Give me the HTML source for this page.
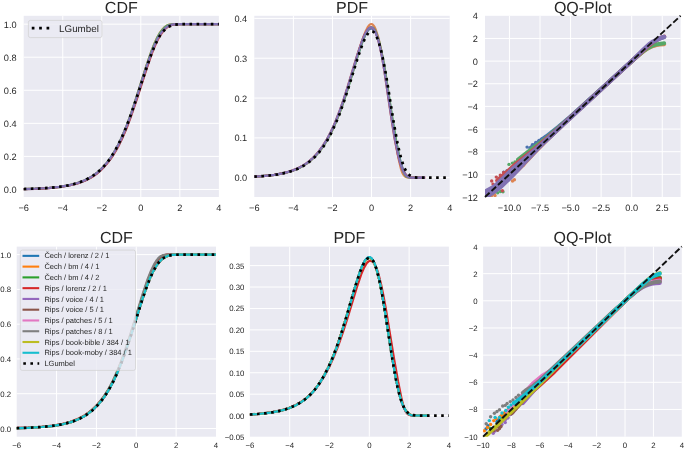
<!DOCTYPE html>
<html><head><meta charset="utf-8"><style>
html,body{margin:0;padding:0;background:#fff;}
body{width:685px;height:449px;overflow:hidden;}
svg{display:block;}
</style></head><body>
<svg width="685" height="449" viewBox="0 0 685 449" font-family='"Liberation Sans", sans-serif' fill="#262626" text-rendering="geometricPrecision" style="will-change:transform">
<rect width="685" height="449" fill="#fff"/>
<clipPath id="c1"><rect x="23.7" y="15.8" width="195.20" height="181.20"/></clipPath>
<rect x="23.7" y="15.8" width="195.20" height="181.20" fill="#EAEAF2"/>
<clipPath id="c2"><rect x="254.3" y="15.8" width="195.40" height="181.20"/></clipPath>
<rect x="254.3" y="15.8" width="195.40" height="181.20" fill="#EAEAF2"/>
<clipPath id="c3"><rect x="485.0" y="15.8" width="195.60" height="181.20"/></clipPath>
<rect x="485.0" y="15.8" width="195.60" height="181.20" fill="#EAEAF2"/>
<clipPath id="c4"><rect x="16.7" y="246.6" width="199.30" height="190.10"/></clipPath>
<rect x="16.7" y="246.6" width="199.30" height="190.10" fill="#EAEAF2"/>
<clipPath id="c5"><rect x="249.9" y="246.6" width="199.00" height="190.10"/></clipPath>
<rect x="249.9" y="246.6" width="199.00" height="190.10" fill="#EAEAF2"/>
<clipPath id="c6"><rect x="483.1" y="246.6" width="198.70" height="190.10"/></clipPath>
<rect x="483.1" y="246.6" width="198.70" height="190.10" fill="#EAEAF2"/>
<line x1="62.74" y1="15.8" x2="62.74" y2="197.0" stroke="#fff" stroke-width="1"/>
<line x1="101.78" y1="15.8" x2="101.78" y2="197.0" stroke="#fff" stroke-width="1"/>
<line x1="140.82" y1="15.8" x2="140.82" y2="197.0" stroke="#fff" stroke-width="1"/>
<line x1="179.86" y1="15.8" x2="179.86" y2="197.0" stroke="#fff" stroke-width="1"/>
<line x1="23.7" y1="189.45" x2="218.9" y2="189.45" stroke="#fff" stroke-width="1"/>
<line x1="23.7" y1="156.39" x2="218.9" y2="156.39" stroke="#fff" stroke-width="1"/>
<line x1="23.7" y1="123.33" x2="218.9" y2="123.33" stroke="#fff" stroke-width="1"/>
<line x1="23.7" y1="90.27" x2="218.9" y2="90.27" stroke="#fff" stroke-width="1"/>
<line x1="23.7" y1="57.21" x2="218.9" y2="57.21" stroke="#fff" stroke-width="1"/>
<line x1="23.7" y1="24.15" x2="218.9" y2="24.15" stroke="#fff" stroke-width="1"/>
<line x1="293.38" y1="15.8" x2="293.38" y2="197.0" stroke="#fff" stroke-width="1"/>
<line x1="332.46" y1="15.8" x2="332.46" y2="197.0" stroke="#fff" stroke-width="1"/>
<line x1="371.54" y1="15.8" x2="371.54" y2="197.0" stroke="#fff" stroke-width="1"/>
<line x1="410.62" y1="15.8" x2="410.62" y2="197.0" stroke="#fff" stroke-width="1"/>
<line x1="254.3" y1="177.70" x2="449.7" y2="177.70" stroke="#fff" stroke-width="1"/>
<line x1="254.3" y1="137.88" x2="449.7" y2="137.88" stroke="#fff" stroke-width="1"/>
<line x1="254.3" y1="98.05" x2="449.7" y2="98.05" stroke="#fff" stroke-width="1"/>
<line x1="254.3" y1="58.23" x2="449.7" y2="58.23" stroke="#fff" stroke-width="1"/>
<line x1="254.3" y1="18.40" x2="449.7" y2="18.40" stroke="#fff" stroke-width="1"/>
<line x1="509.45" y1="15.8" x2="509.45" y2="197.0" stroke="#fff" stroke-width="1"/>
<line x1="540.01" y1="15.8" x2="540.01" y2="197.0" stroke="#fff" stroke-width="1"/>
<line x1="570.58" y1="15.8" x2="570.58" y2="197.0" stroke="#fff" stroke-width="1"/>
<line x1="601.14" y1="15.8" x2="601.14" y2="197.0" stroke="#fff" stroke-width="1"/>
<line x1="631.70" y1="15.8" x2="631.70" y2="197.0" stroke="#fff" stroke-width="1"/>
<line x1="662.26" y1="15.8" x2="662.26" y2="197.0" stroke="#fff" stroke-width="1"/>
<line x1="485.0" y1="174.35" x2="680.6" y2="174.35" stroke="#fff" stroke-width="1"/>
<line x1="485.0" y1="151.70" x2="680.6" y2="151.70" stroke="#fff" stroke-width="1"/>
<line x1="485.0" y1="129.05" x2="680.6" y2="129.05" stroke="#fff" stroke-width="1"/>
<line x1="485.0" y1="106.40" x2="680.6" y2="106.40" stroke="#fff" stroke-width="1"/>
<line x1="485.0" y1="83.75" x2="680.6" y2="83.75" stroke="#fff" stroke-width="1"/>
<line x1="485.0" y1="61.10" x2="680.6" y2="61.10" stroke="#fff" stroke-width="1"/>
<line x1="485.0" y1="38.45" x2="680.6" y2="38.45" stroke="#fff" stroke-width="1"/>
<line x1="56.56" y1="246.6" x2="56.56" y2="436.7" stroke="#fff" stroke-width="1"/>
<line x1="96.42" y1="246.6" x2="96.42" y2="436.7" stroke="#fff" stroke-width="1"/>
<line x1="136.28" y1="246.6" x2="136.28" y2="436.7" stroke="#fff" stroke-width="1"/>
<line x1="176.14" y1="246.6" x2="176.14" y2="436.7" stroke="#fff" stroke-width="1"/>
<line x1="16.7" y1="428.50" x2="216.0" y2="428.50" stroke="#fff" stroke-width="1"/>
<line x1="16.7" y1="393.72" x2="216.0" y2="393.72" stroke="#fff" stroke-width="1"/>
<line x1="16.7" y1="358.94" x2="216.0" y2="358.94" stroke="#fff" stroke-width="1"/>
<line x1="16.7" y1="324.16" x2="216.0" y2="324.16" stroke="#fff" stroke-width="1"/>
<line x1="16.7" y1="289.38" x2="216.0" y2="289.38" stroke="#fff" stroke-width="1"/>
<line x1="16.7" y1="254.60" x2="216.0" y2="254.60" stroke="#fff" stroke-width="1"/>
<line x1="289.70" y1="246.6" x2="289.70" y2="436.7" stroke="#fff" stroke-width="1"/>
<line x1="329.50" y1="246.6" x2="329.50" y2="436.7" stroke="#fff" stroke-width="1"/>
<line x1="369.30" y1="246.6" x2="369.30" y2="436.7" stroke="#fff" stroke-width="1"/>
<line x1="409.10" y1="246.6" x2="409.10" y2="436.7" stroke="#fff" stroke-width="1"/>
<line x1="249.9" y1="415.60" x2="448.9" y2="415.60" stroke="#fff" stroke-width="1"/>
<line x1="249.9" y1="394.17" x2="448.9" y2="394.17" stroke="#fff" stroke-width="1"/>
<line x1="249.9" y1="372.74" x2="448.9" y2="372.74" stroke="#fff" stroke-width="1"/>
<line x1="249.9" y1="351.31" x2="448.9" y2="351.31" stroke="#fff" stroke-width="1"/>
<line x1="249.9" y1="329.89" x2="448.9" y2="329.89" stroke="#fff" stroke-width="1"/>
<line x1="249.9" y1="308.46" x2="448.9" y2="308.46" stroke="#fff" stroke-width="1"/>
<line x1="249.9" y1="287.03" x2="448.9" y2="287.03" stroke="#fff" stroke-width="1"/>
<line x1="249.9" y1="265.60" x2="448.9" y2="265.60" stroke="#fff" stroke-width="1"/>
<line x1="511.49" y1="246.6" x2="511.49" y2="436.7" stroke="#fff" stroke-width="1"/>
<line x1="539.87" y1="246.6" x2="539.87" y2="436.7" stroke="#fff" stroke-width="1"/>
<line x1="568.26" y1="246.6" x2="568.26" y2="436.7" stroke="#fff" stroke-width="1"/>
<line x1="596.64" y1="246.6" x2="596.64" y2="436.7" stroke="#fff" stroke-width="1"/>
<line x1="625.03" y1="246.6" x2="625.03" y2="436.7" stroke="#fff" stroke-width="1"/>
<line x1="653.41" y1="246.6" x2="653.41" y2="436.7" stroke="#fff" stroke-width="1"/>
<line x1="483.1" y1="409.44" x2="681.8" y2="409.44" stroke="#fff" stroke-width="1"/>
<line x1="483.1" y1="382.29" x2="681.8" y2="382.29" stroke="#fff" stroke-width="1"/>
<line x1="483.1" y1="355.13" x2="681.8" y2="355.13" stroke="#fff" stroke-width="1"/>
<line x1="483.1" y1="327.97" x2="681.8" y2="327.97" stroke="#fff" stroke-width="1"/>
<line x1="483.1" y1="300.81" x2="681.8" y2="300.81" stroke="#fff" stroke-width="1"/>
<line x1="483.1" y1="273.66" x2="681.8" y2="273.66" stroke="#fff" stroke-width="1"/>
<path d="M17.8 189.2L35.2 188.8 48.6 188.1 59.6 187.0 69.0 185.5 77.3 183.4 84.6 180.7 88.0 179.1 91.2 177.3 94.4 175.3 97.3 173.1 100.7 170.1 103.9 166.9 107.1 163.2 110.2 159.2 113.1 154.9 116.0 150.0 118.9 144.8 121.7 139.0 126.7 127.4 131.7 113.7 136.5 99.5 147.0 66.8 152.2 51.9 155.2 44.7 158.0 38.8 160.7 34.1 163.5 30.4 166.0 27.8 168.5 26.0 171.2 24.9 174.2 24.3 179.9 24.2 224.7 24.1" fill="none" stroke="#4C72B0" stroke-width="2.2" stroke-linejoin="round" stroke-linecap="butt" clip-path="url(#c1)" />
<path d="M17.8 189.2L35.0 188.7 48.4 188.0 59.3 186.9 68.6 185.4 76.9 183.3 84.2 180.6 90.8 177.2 93.9 175.2 96.8 173.0 100.3 170.0 103.6 166.6 106.9 162.9 109.9 158.8 112.8 154.5 115.7 149.5 118.6 144.2 121.4 138.3 126.3 126.8 131.4 112.9 136.0 98.7 146.4 65.5 151.6 50.6 154.5 43.3 157.2 37.5 159.9 32.7 162.6 29.2 164.6 27.1 166.8 25.6 169.0 24.7 171.8 24.3 177.2 24.2 224.7 24.1" fill="none" stroke="#DD8452" stroke-width="2.2" stroke-linejoin="round" stroke-linecap="butt" clip-path="url(#c1)" />
<path d="M17.8 189.2L35.0 188.7 48.4 188.0 59.3 186.9 68.6 185.4 76.8 183.3 84.1 180.6 90.7 177.2 93.8 175.2 96.7 173.0 100.1 170.1 103.4 166.7 106.7 163.0 109.7 159.0 112.7 154.4 115.6 149.5 118.5 144.2 121.3 138.3 126.3 126.6 131.4 112.7 136.0 98.6 146.4 65.8 151.6 50.9 154.5 43.7 157.2 37.9 159.9 33.1 162.7 29.4 164.8 27.2 167.1 25.6 169.3 24.8 172.1 24.3 177.5 24.2 224.7 24.1" fill="none" stroke="#55A868" stroke-width="2.2" stroke-linejoin="round" stroke-linecap="butt" clip-path="url(#c1)" />
<path d="M17.8 189.2L35.3 188.8 48.8 188.1 59.8 187.0 69.2 185.5 77.5 183.4 84.9 180.7 88.3 179.0 91.5 177.2 94.7 175.2 97.6 173.0 101.0 170.1 104.2 166.8 107.4 163.1 110.5 159.1 113.4 154.8 116.3 149.9 119.2 144.6 122.0 138.8 127.0 127.2 132.0 113.5 136.7 99.6 147.2 66.9 152.4 52.1 155.4 44.9 158.1 39.2 160.8 34.5 163.7 30.6 166.2 28.0 168.8 26.2 171.6 25.0 174.7 24.4 180.3 24.2 224.7 24.1" fill="none" stroke="#C44E52" stroke-width="2.2" stroke-linejoin="round" stroke-linecap="butt" clip-path="url(#c1)" />
<path d="M17.8 189.2L35.0 188.7 48.4 188.0 59.3 186.9 68.6 185.4 76.9 183.3 84.2 180.6 90.8 177.2 93.9 175.2 96.8 173.0 100.2 170.1 103.4 166.8 106.7 163.1 109.7 159.1 112.6 154.8 115.5 149.9 118.4 144.6 121.2 138.8 126.2 127.2 131.3 113.6 135.9 99.6 146.4 66.9 151.7 52.0 154.6 44.9 157.4 39.0 160.1 34.3 163.0 30.5 165.5 27.9 168.1 26.1 170.8 24.9 173.9 24.3 179.6 24.2 224.7 24.1" fill="none" stroke="#8172B3" stroke-width="2.2" stroke-linejoin="round" stroke-linecap="butt" clip-path="url(#c1)" />
<path d="M23.7 189.0L39.3 188.5 51.7 187.7 62.2 186.5 71.0 184.9 78.8 182.7 85.9 179.8 92.1 176.4 98.0 172.0 101.3 169.0 104.5 165.6 107.5 162.1 110.4 158.1 113.3 153.6 115.9 149.2 121.5 138.2 126.4 126.8 131.2 113.8 136.1 99.4 146.6 67.4 151.8 52.8 154.7 45.7 157.3 40.3 159.9 35.7 162.5 32.1 165.5 29.0 168.4 26.9 171.6 25.4 175.2 24.6 178.5 24.3 183.4 24.2 218.9 24.1" fill="none" stroke="#000" stroke-width="2.7" stroke-linejoin="round" stroke-linecap="butt" clip-path="url(#c1)" stroke-dasharray="2.6 4.5"/>
<path d="M248.4 176.9L262.7 176.1 274.2 174.9 283.9 173.1 288.2 172.0 292.3 170.7 296.2 169.2 299.8 167.5 303.2 165.7 306.6 163.5 309.7 161.1 312.7 158.5 315.7 155.6 318.5 152.4 322.9 146.5 327.2 139.7 331.3 131.9 335.3 123.2 339.7 112.1 344.2 99.3 348.5 85.8 357.8 55.3 362.3 42.1 364.8 36.0 367.1 31.7 368.2 30.3 369.3 29.3 370.4 28.7 371.3 28.5 372.6 28.8 373.8 29.8 375.0 31.4 376.1 33.7 378.5 40.3 380.8 49.5 382.9 59.6 385.0 71.8 392.5 120.6 395.7 139.2 399.1 155.8 400.8 162.3 402.4 167.5 403.9 171.2 405.3 173.9 406.8 175.7 408.5 176.9 410.0 177.4 412.2 177.6 424.2 177.7" fill="none" stroke="#4C72B0" stroke-width="2.2" stroke-linejoin="round" stroke-linecap="butt" clip-path="url(#c2)" />
<path d="M248.4 176.9L262.9 176.1 274.5 174.9 284.3 173.0 288.7 171.9 292.8 170.5 296.7 169.0 300.3 167.3 303.8 165.3 307.2 163.1 310.4 160.6 313.4 157.8 316.3 154.8 319.2 151.5 323.8 145.2 328.2 137.9 332.5 129.5 336.7 119.9 341.1 108.4 345.6 94.8 350.1 80.4 359.7 48.3 363.7 36.1 365.9 30.7 367.8 26.9 369.6 24.8 370.5 24.2 371.2 24.0 372.4 24.4 373.6 25.5 374.7 27.2 375.8 29.8 378.2 37.1 380.7 48.1 382.9 59.4 385.2 73.5 393.2 126.9 396.4 146.5 399.0 160.8 401.1 169.4 402.2 172.4 403.3 174.5 404.6 176.1 405.9 177.0 407.3 177.4 409.3 177.6 419.3 177.7" fill="none" stroke="#DD8452" stroke-width="2.2" stroke-linejoin="round" stroke-linecap="butt" clip-path="url(#c2)" />
<path d="M248.4 177.0L262.8 176.2 274.4 174.9 284.2 173.1 288.5 172.0 292.6 170.7 296.5 169.2 300.1 167.5 303.6 165.5 307.0 163.4 310.1 161.0 313.1 158.3 316.0 155.4 318.9 152.1 323.4 146.1 327.7 139.2 331.9 131.1 336.0 122.0 340.4 110.8 344.9 97.9 349.2 84.3 358.5 53.4 362.9 40.3 365.4 34.4 367.5 30.3 368.6 28.9 369.6 27.9 370.6 27.3 371.4 27.2 372.7 27.5 373.9 28.5 375.1 30.2 376.2 32.6 378.7 39.8 381.1 49.7 383.3 60.5 385.5 73.4 393.2 123.2 396.5 142.6 399.6 158.8 400.9 164.5 402.2 169.0 403.4 172.1 404.6 174.4 405.8 176.0 407.2 176.9 408.7 177.4 410.5 177.6 420.4 177.7" fill="none" stroke="#55A868" stroke-width="2.2" stroke-linejoin="round" stroke-linecap="butt" clip-path="url(#c2)" />
<path d="M248.4 176.9L262.6 176.1 274.0 174.9 283.7 173.1 288.0 171.9 292.1 170.6 296.0 169.1 299.6 167.4 303.1 165.5 306.4 163.3 309.5 160.9 312.5 158.2 315.5 155.3 318.2 152.1 322.6 146.2 326.9 139.3 331.0 131.5 335.0 122.6 339.4 111.5 343.9 98.5 348.3 84.6 357.4 54.3 361.8 41.3 364.3 35.1 366.7 30.8 367.8 29.3 368.9 28.2 370.0 27.6 371.0 27.4 372.1 27.7 373.3 28.6 374.5 30.2 375.6 32.4 377.9 38.7 380.2 48.1 382.2 58.0 384.3 70.8 391.6 120.1 394.6 138.8 397.8 154.8 399.4 160.8 401.0 166.0 402.7 170.0 404.5 173.1 406.3 175.3 408.4 176.7 410.2 177.3 412.5 177.6 425.3 177.7" fill="none" stroke="#C44E52" stroke-width="2.2" stroke-linejoin="round" stroke-linecap="butt" clip-path="url(#c2)" />
<path d="M248.4 176.9L262.6 176.1 274.1 174.9 283.8 173.1 288.1 171.9 292.2 170.6 296.1 169.1 299.7 167.4 303.1 165.5 306.5 163.3 309.6 160.9 312.6 158.2 315.6 155.2 318.3 152.1 322.7 146.2 327.0 139.3 331.1 131.4 335.1 122.6 339.5 111.4 344.0 98.5 348.3 85.0 357.6 54.3 362.1 41.0 364.6 34.9 366.9 30.8 367.9 29.3 369.0 28.2 370.1 27.6 371.1 27.4 372.2 27.7 373.4 28.7 374.6 30.3 375.7 32.6 378.0 39.0 380.3 48.4 382.3 58.2 384.4 70.8 391.9 120.5 395.0 139.5 398.3 155.8 400.0 162.2 401.6 167.4 403.1 171.0 404.7 173.9 406.2 175.7 408.0 176.9 409.6 177.4 411.8 177.6 425.1 177.7" fill="none" stroke="#8172B3" stroke-width="2.2" stroke-linejoin="round" stroke-linecap="butt" clip-path="url(#c2)" />
<path d="M254.3 176.7L267.0 175.8 277.8 174.4 286.9 172.5 294.8 170.0 298.3 168.5 301.9 166.7 305.2 164.8 308.1 162.8 311.1 160.5 314.0 157.8 316.9 154.8 319.5 151.8 323.8 146.0 327.7 139.7 331.6 132.4 335.5 123.9 339.8 113.4 344.3 100.5 348.6 87.4 357.7 57.8 362.3 44.7 364.9 38.6 367.2 34.6 368.5 32.9 369.5 32.0 370.4 31.4 371.4 31.2 372.7 31.5 374.0 32.4 375.3 34.1 376.3 35.8 378.6 41.6 381.2 51.0 383.5 61.4 385.8 73.7 393.9 123.7 397.5 143.3 399.5 152.1 401.4 159.5 403.4 165.3 405.3 169.7 407.3 172.8 409.2 174.9 411.5 176.4 414.5 177.3 417.1 177.6 420.7 177.7 449.7 177.7" fill="none" stroke="#000" stroke-width="2.7" stroke-linejoin="round" stroke-linecap="butt" clip-path="url(#c2)" stroke-dasharray="2.6 4.5"/>
<g clip-path="url(#c3)" fill="#4C72B0"><circle cx="527.1" cy="147.1" r="1.7"/><circle cx="532.4" cy="144.8" r="1.7"/><circle cx="535.8" cy="142.4" r="1.7"/><circle cx="539" cy="140.5" r="1.7"/><circle cx="541.8" cy="139" r="1.7"/><circle cx="503.7" cy="172.1" r="1.7"/><circle cx="507.1" cy="170.8" r="1.7"/></g>
<path d="M530.2 148.1L546.4 136.2 558.4 126.7 570.5 116.4 640.7 52.9 648.4 46.1 652.8 42.8 656.8 40.1 660.5 38.3 664.2 37.1" fill="none" stroke="#4C72B0" stroke-width="4.0" stroke-linejoin="round" stroke-linecap="round" clip-path="url(#c3)"/>
<g clip-path="url(#c3)" fill="#DD8452"><circle cx="523.7" cy="165.1" r="1.7"/><circle cx="514.4" cy="179.8" r="1.7"/><circle cx="512.5" cy="181" r="1.7"/><circle cx="495" cy="195.5" r="1.7"/><circle cx="487.7" cy="193.5" r="1.7"/><circle cx="491" cy="196.5" r="1.7"/></g>
<path d="M491.1 195.3L521.5 166.6 534.1 153.2 546.2 140.9 570.9 117.4 623.0 69.2 636.0 57.4 643.8 51.1 647.3 48.8 650.3 47.2 653.4 46.0 656.4 45.1 659.9 44.6 664.2 44.2" fill="none" stroke="#DD8452" stroke-width="4.0" stroke-linejoin="round" stroke-linecap="round" clip-path="url(#c3)"/>
<g clip-path="url(#c3)" fill="#55A868"><circle cx="509" cy="164.4" r="1.7"/><circle cx="512.4" cy="163.1" r="1.7"/><circle cx="515" cy="162" r="1.7"/><circle cx="517.7" cy="160" r="1.7"/><circle cx="520.5" cy="159" r="1.7"/><circle cx="497.7" cy="192.8" r="1.7"/><circle cx="500.5" cy="191.5" r="1.7"/><circle cx="503" cy="191.8" r="1.7"/></g>
<path d="M518.0 159.6L533.8 147.3 546.2 138.0 570.4 117.3 627.2 65.3 641.9 52.4 647.4 48.4 652.5 45.7 657.6 44.2 664.2 43.3" fill="none" stroke="#55A868" stroke-width="4.0" stroke-linejoin="round" stroke-linecap="round" clip-path="url(#c3)"/>
<g clip-path="url(#c3)" fill="#C44E52"><circle cx="491.7" cy="181" r="1.7"/><circle cx="496.3" cy="177.1" r="1.7"/><circle cx="500.3" cy="175.1" r="1.7"/><circle cx="503.7" cy="172.5" r="1.7"/><circle cx="493" cy="184.1" r="1.7"/><circle cx="502.4" cy="190.8" r="1.7"/><circle cx="489" cy="194.5" r="1.7"/></g>
<path d="M497.2 180.6L515.6 164.1 534.1 149.3 558.3 128.5 647.5 46.8 652.5 42.7 656.7 39.8 660.5 37.9 664.2 36.6" fill="none" stroke="#C44E52" stroke-width="4.0" stroke-linejoin="round" stroke-linecap="round" clip-path="url(#c3)"/>
<path d="M546.1 140.4L631.7 61.2 642.9 50.1 649.4 44.0 653.0 41.7 658.3 38.9 661.3 37.7 664.2 36.9" fill="none" stroke="#8172B3" stroke-width="4.4" stroke-linejoin="round" stroke-linecap="round" clip-path="url(#c3)"/>
<path d="M483.0 190.9 L488.0 188.2 L493.0 185.6 L502.0 177.3 L510.0 169.3 L519.0 161.5 L525.0 156.4 L532.0 150.5 L540.0 143.4 L548.0 136.4 L556.0 129.2 L556.0 133.2 L548.0 140.8 L540.0 148.6 L532.0 157.0 L525.0 164.4 L519.0 171.0 L510.0 180.3 L502.0 187.8 L493.0 194.6 L488.0 197.7 L483.0 200.9Z" fill="#8172B3" stroke="#8172B3" stroke-width="1.2" stroke-linejoin="round" clip-path="url(#c3)"/>
<line x1="485.00" y1="197.00" x2="680.60" y2="15.80" stroke="#111" stroke-width="1.9" stroke-dasharray="6.25 2.6"/>
<path d="M10.7 428.2L28.3 427.8 41.9 427.0 53.1 425.9 62.5 424.3 70.9 422.1 78.4 419.2 81.8 417.6 85.1 415.7 88.2 413.5 91.2 411.2 94.7 408.1 98.0 404.7 101.2 401.0 104.3 396.8 107.3 392.2 110.3 387.1 113.2 381.6 116.1 375.5 121.1 363.4 126.4 349.0 131.3 334.2 142.1 300.1 147.4 284.6 150.4 277.2 153.3 271.0 156.1 266.1 159.0 262.1 161.9 259.2 164.9 257.1 168.2 255.7 172.0 254.9 178.5 254.6 221.9 254.6" fill="none" stroke="#1f77b4" stroke-width="2.2" stroke-linejoin="round" stroke-linecap="butt" clip-path="url(#c4)" />
<path d="M10.7 428.2L28.3 427.8 41.9 427.0 53.1 425.9 62.5 424.3 70.9 422.1 78.4 419.2 81.8 417.6 85.1 415.7 88.2 413.5 91.2 411.2 94.7 408.1 98.0 404.8 101.2 401.0 104.3 396.8 107.3 392.3 110.3 387.2 113.2 381.7 116.1 375.6 121.1 363.5 126.4 349.1 131.3 334.3 142.1 300.2 147.4 284.7 150.4 277.3 153.3 271.2 156.1 266.3 159.0 262.3 161.9 259.3 165.0 257.2 168.4 255.8 172.4 255.0 179.6 254.6 221.9 254.6" fill="none" stroke="#ff7f0e" stroke-width="2.2" stroke-linejoin="round" stroke-linecap="butt" clip-path="url(#c4)" />
<path d="M10.7 428.2L28.3 427.8 41.9 427.0 53.1 425.9 62.5 424.3 70.9 422.1 78.4 419.2 81.8 417.6 85.1 415.7 88.2 413.5 91.2 411.2 94.7 408.1 98.0 404.7 101.2 401.0 104.3 396.8 107.3 392.2 110.3 387.1 113.2 381.6 116.1 375.6 121.1 363.5 126.4 349.0 131.3 334.3 142.1 300.1 147.4 284.7 150.4 277.2 153.3 271.1 156.1 266.2 159.0 262.2 161.9 259.2 165.0 257.1 168.3 255.7 172.2 254.9 178.9 254.6 221.9 254.6" fill="none" stroke="#2ca02c" stroke-width="2.2" stroke-linejoin="round" stroke-linecap="butt" clip-path="url(#c4)" />
<path d="M10.7 428.1L27.9 427.6 41.3 426.8 52.5 425.6 61.9 424.0 70.4 421.7 77.9 418.8 81.4 417.1 84.7 415.2 87.9 413.0 90.9 410.7 94.6 407.4 98.1 403.8 101.5 399.7 104.7 395.4 107.9 390.5 111.0 385.2 114.0 379.4 116.9 373.0 122.1 360.5 127.5 345.6 132.4 330.7 143.3 295.7 148.5 280.2 151.4 272.8 154.1 266.8 156.6 262.2 159.0 258.8 160.8 257.0 162.7 255.8 164.7 255.1 167.3 254.7 221.9 254.6" fill="none" stroke="#d62728" stroke-width="2.2" stroke-linejoin="round" stroke-linecap="butt" clip-path="url(#c4)" />
<path d="M10.7 428.2L28.3 427.8 41.9 427.0 53.1 425.9 62.5 424.3 70.9 422.1 78.4 419.2 81.8 417.6 85.1 415.7 88.2 413.5 91.2 411.2 94.7 408.1 98.0 404.8 101.2 401.0 104.3 396.8 107.3 392.3 110.3 387.2 113.2 381.7 116.1 375.6 121.1 363.5 126.4 349.0 131.3 334.3 142.1 300.1 147.4 284.6 150.4 277.2 153.3 271.0 156.1 266.1 159.0 262.1 161.9 259.2 164.9 257.1 168.2 255.7 172.0 254.9 178.5 254.6 221.9 254.6" fill="none" stroke="#9467bd" stroke-width="2.2" stroke-linejoin="round" stroke-linecap="butt" clip-path="url(#c4)" />
<path d="M10.7 428.2L28.1 427.7 41.6 427.0 52.7 425.9 62.1 424.2 70.5 422.1 78.0 419.2 81.4 417.5 84.7 415.6 87.8 413.5 90.7 411.2 94.3 408.0 97.7 404.5 101.0 400.6 104.1 396.3 107.2 391.6 110.2 386.4 113.1 380.7 116.0 374.6 121.0 362.2 126.3 347.4 131.2 332.3 142.1 297.0 147.3 281.4 150.2 274.1 153.0 267.9 155.7 263.0 158.3 259.4 160.3 257.4 162.3 256.0 164.5 255.1 167.2 254.7 221.9 254.6" fill="none" stroke="#8c564b" stroke-width="2.2" stroke-linejoin="round" stroke-linecap="butt" clip-path="url(#c4)" />
<path d="M10.7 428.2L28.3 427.8 41.9 427.0 53.1 425.9 62.5 424.3 70.9 422.1 78.4 419.2 81.8 417.6 85.1 415.7 88.2 413.5 91.2 411.2 94.7 408.1 98.0 404.8 101.2 401.0 104.3 396.8 107.3 392.3 110.3 387.2 113.2 381.7 116.1 375.6 121.1 363.5 126.4 349.0 131.3 334.3 142.1 300.1 147.4 284.6 150.4 277.2 153.3 271.0 156.1 266.1 159.0 262.1 161.9 259.2 164.9 257.1 168.2 255.7 172.0 254.9 178.5 254.6 221.9 254.6" fill="none" stroke="#e377c2" stroke-width="2.2" stroke-linejoin="round" stroke-linecap="butt" clip-path="url(#c4)" />
<path d="M10.7 428.2L30.5 427.6 45.3 426.7 57.4 425.1 62.6 424.1 67.5 422.9 72.2 421.4 76.5 419.8 80.6 417.8 84.5 415.6 88.1 413.1 91.6 410.3 94.9 407.2 98.1 403.8 103.3 397.2 108.2 389.5 112.9 380.7 117.5 370.3 122.1 358.6 126.9 344.8 131.5 330.4 142.1 295.7 147.7 278.9 150.9 270.9 153.9 264.6 156.7 260.1 158.1 258.4 159.5 257.0 161.0 256.0 162.7 255.3 164.6 254.9 167.0 254.7 221.9 254.6" fill="none" stroke="#7f7f7f" stroke-width="2.2" stroke-linejoin="round" stroke-linecap="butt" clip-path="url(#c4)" />
<path d="M10.7 428.2L28.3 427.8 41.9 427.0 53.1 425.9 62.5 424.3 70.9 422.1 78.4 419.2 81.8 417.5 85.1 415.7 88.2 413.5 91.2 411.2 94.7 408.1 98.0 404.7 101.2 400.9 104.3 396.8 107.3 392.2 110.3 387.1 113.2 381.6 116.0 375.7 121.0 363.7 126.3 349.3 131.2 334.5 142.1 300.1 147.4 284.7 150.4 277.3 153.3 271.1 156.1 266.2 159.0 262.2 161.9 259.2 165.0 257.1 168.3 255.7 172.2 254.9 178.9 254.6 221.9 254.6" fill="none" stroke="#bcbd22" stroke-width="2.2" stroke-linejoin="round" stroke-linecap="butt" clip-path="url(#c4)" />
<path d="M10.7 428.2L28.3 427.8 41.9 427.0 53.1 425.9 62.5 424.3 71.0 422.1 78.5 419.2 81.9 417.5 85.2 415.7 88.3 413.5 91.3 411.2 94.8 408.1 98.1 404.7 101.3 400.9 104.4 396.8 107.4 392.2 110.4 387.1 113.3 381.6 116.2 375.5 121.2 363.4 126.4 349.2 131.3 334.4 142.1 300.1 147.4 284.6 150.4 277.2 153.3 271.1 156.1 266.2 159.0 262.2 161.9 259.2 165.0 257.1 168.3 255.7 172.2 254.9 178.9 254.6 221.9 254.6" fill="none" stroke="#17becf" stroke-width="2.2" stroke-linejoin="round" stroke-linecap="butt" clip-path="url(#c4)" />
<path d="M16.7 428.1L32.7 427.5 45.3 426.7 56.0 425.4 64.9 423.7 72.9 421.4 76.6 420.0 80.2 418.4 86.6 414.7 89.6 412.6 92.6 410.2 95.9 407.0 99.2 403.4 102.2 399.7 105.2 395.5 108.2 390.8 110.9 386.1 113.9 380.3 116.5 374.6 121.5 362.6 126.5 348.9 131.5 333.8 142.1 300.1 147.5 284.7 150.5 277.3 153.1 271.6 155.8 266.8 158.4 262.9 161.4 259.7 164.4 257.5 167.8 256.0 171.4 255.1 174.7 254.8 179.7 254.6 216.0 254.6" fill="none" stroke="#000" stroke-width="2.7" stroke-linejoin="round" stroke-linecap="butt" clip-path="url(#c4)" stroke-dasharray="2.6 4.5"/>
<path d="M243.9 414.8L258.6 414.0 270.3 412.7 280.2 410.8 284.6 409.6 288.8 408.2 292.8 406.6 296.5 404.8 299.9 402.8 303.3 400.6 306.5 398.1 309.6 395.3 312.6 392.2 315.5 388.8 319.9 382.6 324.3 375.3 328.5 367.1 332.6 357.8 337.1 346.0 341.6 332.4 346.0 318.1 355.5 285.6 359.9 272.0 362.5 265.5 364.9 261.1 366.0 259.6 367.1 258.5 368.2 257.8 369.2 257.6 370.5 258.0 371.7 258.9 373.0 260.7 374.2 263.0 375.4 265.9 376.7 269.9 379.2 279.6 381.3 290.2 383.6 303.1 391.8 355.3 395.2 375.0 397.1 384.5 398.9 392.2 400.6 398.8 402.4 404.1 404.2 408.3 406.0 411.4 407.8 413.5 409.8 414.8 411.6 415.3 414.0 415.5 429.0 415.6" fill="none" stroke="#1f77b4" stroke-width="2.2" stroke-linejoin="round" stroke-linecap="butt" clip-path="url(#c5)" />
<path d="M243.9 414.8L258.6 414.0 270.3 412.7 280.2 410.8 284.6 409.6 288.8 408.2 292.8 406.6 296.5 404.8 299.9 402.9 303.3 400.6 306.5 398.1 309.6 395.3 312.6 392.2 315.5 388.8 319.9 382.6 324.3 375.3 328.5 367.1 332.6 357.8 337.1 346.1 341.6 332.5 346.0 318.2 355.5 285.8 359.9 272.1 362.5 265.7 364.9 261.2 366.0 259.7 367.1 258.7 368.2 258.0 369.2 257.8 370.5 258.1 371.7 259.1 373.0 260.8 374.2 263.1 375.4 266.1 376.7 270.0 379.2 279.7 381.3 290.3 383.6 303.2 391.8 355.3 395.1 374.4 396.9 383.4 398.7 391.3 400.3 397.5 402.1 402.8 404.0 407.2 406.0 410.6 408.1 413.0 410.4 414.5 412.4 415.2 414.9 415.5 429.0 415.6" fill="none" stroke="#ff7f0e" stroke-width="2.2" stroke-linejoin="round" stroke-linecap="butt" clip-path="url(#c5)" />
<path d="M243.9 414.8L258.6 414.0 270.3 412.7 280.2 410.8 284.6 409.6 288.8 408.2 292.8 406.6 296.5 404.8 299.9 402.8 303.3 400.6 306.5 398.1 309.6 395.3 312.6 392.2 315.5 388.8 319.9 382.6 324.3 375.3 328.5 367.1 332.6 357.8 337.1 346.1 341.6 332.5 346.0 318.2 355.5 285.7 359.9 272.0 362.5 265.6 364.9 261.1 366.0 259.7 367.1 258.6 368.2 257.9 369.2 257.7 370.5 258.1 371.7 259.0 373.0 260.7 374.2 263.0 376.6 269.6 379.1 279.2 381.2 289.7 383.6 303.1 391.8 355.3 395.1 374.4 397.0 383.9 398.8 391.7 400.5 398.3 402.3 403.6 404.1 407.8 406.0 411.0 408.0 413.3 410.1 414.7 412.0 415.3 414.4 415.5 429.0 415.6" fill="none" stroke="#2ca02c" stroke-width="2.2" stroke-linejoin="round" stroke-linecap="butt" clip-path="url(#c5)" />
<path d="M243.9 414.7L258.4 413.8 270.1 412.5 280.0 410.6 284.5 409.3 288.7 408.0 292.7 406.4 296.5 404.6 300.0 402.5 303.4 400.3 306.7 397.8 309.8 395.1 312.9 391.9 315.8 388.6 320.3 382.5 324.8 375.3 329.1 367.3 333.4 357.9 338.1 346.2 342.8 332.6 347.4 318.3 356.8 287.4 361.2 274.3 363.8 268.2 366.1 264.1 367.2 262.6 368.3 261.6 369.4 261.0 370.4 260.8 371.8 261.1 373.1 262.2 374.4 263.9 375.7 266.4 377.0 269.5 378.4 273.7 381.0 284.1 383.2 294.5 385.7 308.0 394.3 360.1 398.1 381.5 401.6 398.9 403.0 404.3 404.4 408.6 405.6 411.3 406.8 413.1 408.2 414.4 409.8 415.1 413.6 415.6 429.0 415.6" fill="none" stroke="#d62728" stroke-width="2.2" stroke-linejoin="round" stroke-linecap="butt" clip-path="url(#c5)" />
<path d="M243.9 414.8L258.6 414.0 270.3 412.7 280.2 410.8 284.6 409.6 288.8 408.2 292.8 406.6 296.5 404.8 299.9 402.9 303.3 400.6 306.5 398.1 309.6 395.3 312.6 392.2 315.5 388.8 319.9 382.6 324.3 375.3 328.5 367.1 332.7 357.6 337.2 345.8 341.7 332.2 346.1 317.9 355.5 285.6 359.9 271.9 362.5 265.4 364.9 260.9 366.0 259.4 367.1 258.3 368.2 257.7 369.2 257.5 370.5 257.8 371.7 258.8 373.0 260.5 374.2 262.8 375.4 265.8 376.7 269.8 379.2 279.5 381.3 290.1 383.6 303.0 391.7 354.7 395.0 373.9 398.6 391.0 400.3 397.8 402.1 403.3 403.9 407.7 405.7 410.9 407.5 413.2 409.5 414.6 411.3 415.2 413.6 415.5 426.9 415.6" fill="none" stroke="#9467bd" stroke-width="2.2" stroke-linejoin="round" stroke-linecap="butt" clip-path="url(#c5)" />
<path d="M243.9 414.8L258.6 414.0 270.3 412.7 280.2 410.8 284.6 409.6 288.8 408.2 292.8 406.6 296.5 404.8 299.9 402.9 303.3 400.6 306.5 398.1 309.6 395.3 312.6 392.2 315.5 388.8 319.9 382.6 324.3 375.3 328.5 367.1 332.7 357.6 337.2 345.8 341.7 332.2 346.1 317.9 355.5 285.6 359.9 271.9 362.5 265.4 364.9 260.9 366.0 259.4 367.1 258.3 368.2 257.7 369.2 257.5 370.5 257.8 371.7 258.8 373.0 260.5 374.2 262.8 375.4 265.8 376.7 269.8 379.2 279.5 381.3 290.1 383.6 303.0 391.7 354.7 395.0 373.9 398.6 391.0 400.3 397.8 402.1 403.3 403.9 407.7 405.7 410.9 407.5 413.2 409.5 414.6 411.3 415.2 413.6 415.5 426.9 415.6" fill="none" stroke="#8c564b" stroke-width="2.2" stroke-linejoin="round" stroke-linecap="butt" clip-path="url(#c5)" />
<path d="M243.9 414.8L258.6 414.0 270.3 412.7 280.2 410.8 284.6 409.6 288.8 408.2 292.8 406.6 296.5 404.8 299.9 402.9 303.3 400.6 306.5 398.1 309.6 395.3 312.6 392.2 315.5 388.8 319.9 382.6 324.3 375.3 328.5 367.1 332.7 357.6 337.2 345.8 341.7 332.2 346.1 317.9 355.5 285.6 359.9 271.9 362.5 265.4 364.9 260.9 366.0 259.4 367.1 258.3 368.2 257.7 369.2 257.5 370.5 257.8 371.7 258.8 373.0 260.5 374.2 262.8 375.4 265.8 376.7 269.8 379.2 279.5 381.3 290.1 383.6 303.0 391.7 354.7 395.0 373.9 398.6 391.0 400.3 397.8 402.1 403.3 403.9 407.7 405.7 410.9 407.5 413.2 409.5 414.6 411.3 415.2 413.6 415.5 426.9 415.6" fill="none" stroke="#e377c2" stroke-width="2.2" stroke-linejoin="round" stroke-linecap="butt" clip-path="url(#c5)" />
<path d="M243.9 414.8L258.6 414.0 270.3 412.7 280.2 410.8 284.6 409.6 288.8 408.2 292.8 406.6 296.5 404.8 299.9 402.9 303.3 400.6 306.5 398.1 309.6 395.3 312.6 392.2 315.5 388.8 319.9 382.6 324.3 375.3 328.5 367.1 332.7 357.6 337.2 345.8 341.7 332.2 346.1 317.9 355.5 285.6 359.9 271.9 362.5 265.4 364.9 260.9 366.0 259.4 367.1 258.3 368.2 257.7 369.2 257.5 370.5 257.8 371.7 258.8 373.0 260.5 374.2 262.8 375.4 265.8 376.7 269.8 379.2 279.5 381.3 290.1 383.6 303.0 391.7 354.7 395.0 373.9 398.6 391.0 400.3 397.8 402.1 403.3 403.9 407.7 405.7 410.9 407.5 413.2 409.5 414.6 411.3 415.2 413.6 415.5 426.9 415.6" fill="none" stroke="#7f7f7f" stroke-width="2.2" stroke-linejoin="round" stroke-linecap="butt" clip-path="url(#c5)" />
<path d="M243.9 414.8L258.5 414.0 270.2 412.7 280.1 410.8 284.5 409.6 288.7 408.2 292.7 406.7 296.4 404.9 299.8 402.9 303.2 400.6 306.4 398.1 309.5 395.4 312.5 392.3 315.4 388.9 319.8 382.7 324.2 375.4 328.4 367.3 332.5 358.0 337.0 346.3 341.5 332.7 345.9 318.4 355.4 286.0 359.8 272.4 362.4 265.9 364.8 261.4 366.0 259.8 367.1 258.7 368.2 258.1 369.2 257.9 370.5 258.2 371.7 259.2 373.0 260.9 374.2 263.2 375.4 266.1 376.7 270.0 379.2 279.7 381.3 290.3 383.6 303.1 391.8 355.3 395.1 374.4 397.0 383.9 398.8 391.7 400.5 398.3 402.3 403.6 404.1 407.8 406.0 411.0 408.0 413.3 410.1 414.7 412.0 415.3 414.4 415.5 429.0 415.6" fill="none" stroke="#bcbd22" stroke-width="2.2" stroke-linejoin="round" stroke-linecap="butt" clip-path="url(#c5)" />
<path d="M243.9 414.8L258.6 414.0 270.3 412.7 280.2 410.8 284.6 409.6 288.8 408.2 292.8 406.7 296.5 404.9 300.0 402.8 303.4 400.6 306.6 398.1 309.7 395.3 312.7 392.2 315.6 388.8 320.1 382.4 324.5 375.1 328.7 366.9 332.9 357.3 337.4 345.5 342.0 331.5 346.4 317.1 355.8 284.6 360.1 271.2 362.6 264.9 364.9 260.6 366.0 259.1 367.1 257.9 368.2 257.3 369.2 257.1 370.5 257.4 371.7 258.4 373.0 260.2 374.2 262.5 376.6 269.2 379.1 278.9 381.2 289.6 383.5 302.5 391.7 354.8 395.0 374.0 396.9 383.6 398.7 391.4 400.4 398.0 402.2 403.4 404.0 407.6 405.9 410.9 407.9 413.3 410.0 414.7 411.9 415.3 414.3 415.5 429.0 415.6" fill="none" stroke="#17becf" stroke-width="2.2" stroke-linejoin="round" stroke-linecap="butt" clip-path="url(#c5)" />
<path d="M249.9 414.5L262.9 413.6 273.8 412.1 283.1 410.0 287.1 408.8 291.1 407.3 294.7 405.7 298.4 403.8 301.7 401.7 304.7 399.5 307.7 397.1 310.7 394.2 313.7 391.0 316.3 387.7 320.7 381.5 324.6 374.7 328.6 366.8 332.6 357.7 336.9 346.4 341.6 332.5 345.9 318.4 355.2 286.6 359.9 272.4 362.5 265.9 364.8 261.6 366.2 259.8 367.2 258.8 368.2 258.2 369.2 257.9 370.5 258.2 371.8 259.3 373.2 261.1 374.2 262.9 376.5 269.1 379.1 279.2 381.5 290.5 383.8 303.7 392.1 357.5 395.7 378.5 397.7 388.1 399.7 396.0 401.7 402.3 403.7 407.0 405.7 410.4 407.7 412.6 410.0 414.2 413.0 415.1 415.7 415.4 419.3 415.6 448.9 415.6" fill="none" stroke="#000" stroke-width="2.7" stroke-linejoin="round" stroke-linecap="butt" clip-path="url(#c5)" stroke-dasharray="2.6 4.5"/>
<g clip-path="url(#c6)" fill="#1f77b4"><circle cx="488" cy="425.7" r="1.7"/><circle cx="486" cy="429" r="1.7"/></g>
<path d="M497.3 421.7L540.1 382.1 618.3 307.3 634.5 292.2 641.9 286.3 647.6 282.8 650.4 281.5 653.3 280.6 659.8 279.5" fill="none" stroke="#1f77b4" stroke-width="4.0" stroke-linejoin="round" stroke-linecap="round" clip-path="url(#c6)"/>
<g clip-path="url(#c6)" fill="#ff7f0e"><circle cx="484.3" cy="430.8" r="1.7"/><circle cx="487.5" cy="427.5" r="1.7"/><circle cx="490.6" cy="424.4" r="1.7"/><circle cx="493.8" cy="420.6" r="1.7"/><circle cx="496" cy="418.5" r="1.7"/></g>
<path d="M500.1 417.2L539.7 382.4 619.4 306.2 636.2 290.7 643.0 285.2 648.6 281.6 653.8 279.4 659.8 278.0" fill="none" stroke="#ff7f0e" stroke-width="4.0" stroke-linejoin="round" stroke-linecap="round" clip-path="url(#c6)"/>
<g clip-path="url(#c6)" fill="#2ca02c"><circle cx="489.3" cy="432" r="1.7"/><circle cx="490.5" cy="428.5" r="1.7"/></g>
<path d="M497.3 424.4L540.1 382.1 617.0 308.5 633.7 292.8 641.5 286.2 647.6 281.9 653.3 279.2 656.5 278.2 659.8 277.5" fill="none" stroke="#2ca02c" stroke-width="4.0" stroke-linejoin="round" stroke-linecap="round" clip-path="url(#c6)"/>
<path d="M504.4 417.6L511.8 410.5 554.2 371.9 620.5 305.5 632.5 294.1 640.7 287.2 646.9 283.0 650.1 281.4 653.2 280.2 659.8 278.6" fill="none" stroke="#d62728" stroke-width="4.0" stroke-linejoin="round" stroke-linecap="round" clip-path="url(#c6)"/>
<g clip-path="url(#c6)" fill="#9467bd"><circle cx="493.2" cy="433.3" r="1.7"/><circle cx="495" cy="431" r="1.7"/><circle cx="500.5" cy="423.5" r="1.7"/><circle cx="502" cy="424.4" r="1.7"/><circle cx="503" cy="421" r="1.7"/><circle cx="505.2" cy="422.5" r="1.7"/><circle cx="505.5" cy="419.5" r="1.7"/><circle cx="507.7" cy="418" r="1.7"/><circle cx="508" cy="417.5" r="1.7"/><circle cx="510.5" cy="414.5" r="1.7"/><circle cx="512.2" cy="413" r="1.7"/><circle cx="513" cy="412.2" r="1.7"/><circle cx="515.5" cy="409" r="1.7"/><circle cx="516" cy="407.3" r="1.7"/></g>
<path d="M522.8 403.1L540.0 383.5 568.2 355.2 615.9 309.6 629.9 296.6 638.2 290.0 641.6 287.8 644.7 286.2 648.1 284.9 651.6 283.9 655.3 283.3 659.8 282.9" fill="none" stroke="#9467bd" stroke-width="4.0" stroke-linejoin="round" stroke-linecap="round" clip-path="url(#c6)"/>
<g clip-path="url(#c6)" fill="#8c564b"><circle cx="493.8" cy="430.8" r="1.7"/><circle cx="495" cy="428" r="1.7"/><circle cx="497" cy="426.5" r="1.7"/><circle cx="497.6" cy="430.3" r="1.7"/><circle cx="498.9" cy="427" r="1.7"/><circle cx="499.5" cy="428.5" r="1.7"/><circle cx="501" cy="426.5" r="1.7"/></g>
<path d="M511.5 413.5L540.1 382.1 614.1 311.3 630.4 296.0 639.0 288.9 642.3 286.6 645.7 284.7 648.6 283.4 652.0 282.3 655.7 281.5 659.8 281.0" fill="none" stroke="#8c564b" stroke-width="4.0" stroke-linejoin="round" stroke-linecap="round" clip-path="url(#c6)"/>
<path d="M507.2 412.2L511.4 408.1 518.7 399.1 532.8 383.6 542.8 375.4 551.2 370.1 559.6 363.4 618.9 306.7 633.8 293.0 640.7 287.5 646.8 283.8 649.9 282.5 652.9 281.6 659.8 280.4" fill="none" stroke="#e377c2" stroke-width="4.0" stroke-linejoin="round" stroke-linecap="round" clip-path="url(#c6)"/>
<g clip-path="url(#c6)" fill="#7f7f7f"><circle cx="486.2" cy="423.8" r="1.7"/><circle cx="490.6" cy="416.8" r="1.7"/><circle cx="494.4" cy="413.2" r="1.7"/><circle cx="497" cy="411.5" r="1.7"/><circle cx="499.5" cy="409.8" r="1.7"/><circle cx="502.7" cy="406" r="1.7"/><circle cx="505.2" cy="405.4" r="1.7"/><circle cx="507.1" cy="403.5" r="1.7"/><circle cx="510.3" cy="401.6" r="1.7"/><circle cx="513" cy="400" r="1.7"/><circle cx="516" cy="397.5" r="1.7"/><circle cx="518.5" cy="395.2" r="1.7"/></g>
<path d="M522.8 392.7L525.6 390.5 532.8 386.1 540.0 380.3 610.7 313.8 635.4 291.8 641.6 287.3 647.1 284.4 652.9 282.6 659.8 281.6" fill="none" stroke="#7f7f7f" stroke-width="4.0" stroke-linejoin="round" stroke-linecap="round" clip-path="url(#c6)"/>
<path d="M478.8 442.7L511.5 411.5 539.6 384.2 568.2 355.2 637.6 288.9 645.3 281.9 650.7 277.6 655.3 274.8 659.8 273.0" fill="none" stroke="#bcbd22" stroke-width="4.0" stroke-linejoin="round" stroke-linecap="round" clip-path="url(#c6)"/>
<g clip-path="url(#c6)" fill="#17becf"><circle cx="489.3" cy="420.6" r="1.7"/><circle cx="495.1" cy="417.4" r="1.7"/><circle cx="499.5" cy="417.4" r="1.7"/><circle cx="502" cy="413" r="1.7"/><circle cx="505.8" cy="410.5" r="1.7"/><circle cx="508.4" cy="407.3" r="1.7"/><circle cx="511" cy="405" r="1.7"/><circle cx="513.5" cy="402.8" r="1.7"/></g>
<path d="M514.3 403.1L525.6 394.3 539.8 382.0 631.0 295.1 642.7 284.3 647.8 280.0 652.1 276.9 655.8 275.0 659.8 273.6" fill="none" stroke="#17becf" stroke-width="4.0" stroke-linejoin="round" stroke-linecap="round" clip-path="url(#c6)"/>
<line x1="483.10" y1="436.60" x2="681.80" y2="246.50" stroke="#111" stroke-width="1.9" stroke-dasharray="6.25 2.6"/>
<text x="23.70" y="211.0" font-size="9.2" text-anchor="middle">−6</text>
<text x="62.74" y="211.0" font-size="9.2" text-anchor="middle">−4</text>
<text x="101.78" y="211.0" font-size="9.2" text-anchor="middle">−2</text>
<text x="140.82" y="211.0" font-size="9.2" text-anchor="middle">0</text>
<text x="179.86" y="211.0" font-size="9.2" text-anchor="middle">2</text>
<text x="218.90" y="211.0" font-size="9.2" text-anchor="middle">4</text>
<text x="16.60" y="192.96" font-size="9.2" text-anchor="end">0.0</text>
<text x="16.60" y="159.90" font-size="9.2" text-anchor="end">0.2</text>
<text x="16.60" y="126.84" font-size="9.2" text-anchor="end">0.4</text>
<text x="16.60" y="93.78" font-size="9.2" text-anchor="end">0.6</text>
<text x="16.60" y="60.72" font-size="9.2" text-anchor="end">0.8</text>
<text x="16.60" y="27.66" font-size="9.2" text-anchor="end">1.0</text>
<text x="254.30" y="211.0" font-size="9.2" text-anchor="middle">−6</text>
<text x="293.38" y="211.0" font-size="9.2" text-anchor="middle">−4</text>
<text x="332.46" y="211.0" font-size="9.2" text-anchor="middle">−2</text>
<text x="371.54" y="211.0" font-size="9.2" text-anchor="middle">0</text>
<text x="410.62" y="211.0" font-size="9.2" text-anchor="middle">2</text>
<text x="449.70" y="211.0" font-size="9.2" text-anchor="middle">4</text>
<text x="247.20" y="181.21" font-size="9.2" text-anchor="end">0.0</text>
<text x="247.20" y="141.39" font-size="9.2" text-anchor="end">0.1</text>
<text x="247.20" y="101.56" font-size="9.2" text-anchor="end">0.2</text>
<text x="247.20" y="61.74" font-size="9.2" text-anchor="end">0.3</text>
<text x="247.20" y="21.91" font-size="9.2" text-anchor="end">0.4</text>
<text x="509.45" y="211.0" font-size="9.2" text-anchor="middle">−10.0</text>
<text x="540.01" y="211.0" font-size="9.2" text-anchor="middle">−7.5</text>
<text x="570.58" y="211.0" font-size="9.2" text-anchor="middle">−5.0</text>
<text x="601.14" y="211.0" font-size="9.2" text-anchor="middle">−2.5</text>
<text x="631.70" y="211.0" font-size="9.2" text-anchor="middle">0.0</text>
<text x="662.26" y="211.0" font-size="9.2" text-anchor="middle">2.5</text>
<text x="477.90" y="200.51" font-size="9.2" text-anchor="end">−12</text>
<text x="477.90" y="177.86" font-size="9.2" text-anchor="end">−10</text>
<text x="477.90" y="155.21" font-size="9.2" text-anchor="end">−8</text>
<text x="477.90" y="132.56" font-size="9.2" text-anchor="end">−6</text>
<text x="477.90" y="109.91" font-size="9.2" text-anchor="end">−4</text>
<text x="477.90" y="87.26" font-size="9.2" text-anchor="end">−2</text>
<text x="477.90" y="64.61" font-size="9.2" text-anchor="end">0</text>
<text x="477.90" y="41.96" font-size="9.2" text-anchor="end">2</text>
<text x="477.90" y="19.31" font-size="9.2" text-anchor="end">4</text>
<text x="16.70" y="448.0" font-size="7.8" text-anchor="middle">−6</text>
<text x="56.56" y="448.0" font-size="7.8" text-anchor="middle">−4</text>
<text x="96.42" y="448.0" font-size="7.8" text-anchor="middle">−2</text>
<text x="136.28" y="448.0" font-size="7.8" text-anchor="middle">0</text>
<text x="176.14" y="448.0" font-size="7.8" text-anchor="middle">2</text>
<text x="216.00" y="448.0" font-size="7.8" text-anchor="middle">4</text>
<text x="11.20" y="431.53" font-size="7.8" text-anchor="end">0.0</text>
<text x="11.20" y="396.75" font-size="7.8" text-anchor="end">0.2</text>
<text x="11.20" y="361.97" font-size="7.8" text-anchor="end">0.4</text>
<text x="11.20" y="327.19" font-size="7.8" text-anchor="end">0.6</text>
<text x="11.20" y="292.41" font-size="7.8" text-anchor="end">0.8</text>
<text x="11.20" y="257.63" font-size="7.8" text-anchor="end">1.0</text>
<text x="249.90" y="448.0" font-size="7.8" text-anchor="middle">−6</text>
<text x="289.70" y="448.0" font-size="7.8" text-anchor="middle">−4</text>
<text x="329.50" y="448.0" font-size="7.8" text-anchor="middle">−2</text>
<text x="369.30" y="448.0" font-size="7.8" text-anchor="middle">0</text>
<text x="409.10" y="448.0" font-size="7.8" text-anchor="middle">2</text>
<text x="448.90" y="448.0" font-size="7.8" text-anchor="middle">4</text>
<text x="244.40" y="440.06" font-size="7.8" text-anchor="end">−0.05</text>
<text x="244.40" y="418.63" font-size="7.8" text-anchor="end">0.00</text>
<text x="244.40" y="397.20" font-size="7.8" text-anchor="end">0.05</text>
<text x="244.40" y="375.78" font-size="7.8" text-anchor="end">0.10</text>
<text x="244.40" y="354.35" font-size="7.8" text-anchor="end">0.15</text>
<text x="244.40" y="332.92" font-size="7.8" text-anchor="end">0.20</text>
<text x="244.40" y="311.49" font-size="7.8" text-anchor="end">0.25</text>
<text x="244.40" y="290.06" font-size="7.8" text-anchor="end">0.30</text>
<text x="244.40" y="268.63" font-size="7.8" text-anchor="end">0.35</text>
<text x="483.10" y="448.0" font-size="7.8" text-anchor="middle">−10</text>
<text x="511.49" y="448.0" font-size="7.8" text-anchor="middle">−8</text>
<text x="539.87" y="448.0" font-size="7.8" text-anchor="middle">−6</text>
<text x="568.26" y="448.0" font-size="7.8" text-anchor="middle">−4</text>
<text x="596.64" y="448.0" font-size="7.8" text-anchor="middle">−2</text>
<text x="625.03" y="448.0" font-size="7.8" text-anchor="middle">0</text>
<text x="653.41" y="448.0" font-size="7.8" text-anchor="middle">2</text>
<text x="681.80" y="448.0" font-size="7.8" text-anchor="middle">4</text>
<text x="477.60" y="439.63" font-size="7.8" text-anchor="end">−10</text>
<text x="477.60" y="412.48" font-size="7.8" text-anchor="end">−8</text>
<text x="477.60" y="385.32" font-size="7.8" text-anchor="end">−6</text>
<text x="477.60" y="358.16" font-size="7.8" text-anchor="end">−4</text>
<text x="477.60" y="331.00" font-size="7.8" text-anchor="end">−2</text>
<text x="477.60" y="303.85" font-size="7.8" text-anchor="end">0</text>
<text x="477.60" y="276.69" font-size="7.8" text-anchor="end">2</text>
<text x="477.60" y="249.53" font-size="7.8" text-anchor="end">4</text>
<text x="121.30" y="13.4" font-size="16" text-anchor="middle">CDF</text>
<text x="352.00" y="13.4" font-size="16" text-anchor="middle">PDF</text>
<text x="582.80" y="13.4" font-size="16" text-anchor="middle">QQ-Plot</text>
<text x="116.35" y="242.8" font-size="16" text-anchor="middle">CDF</text>
<text x="349.40" y="242.8" font-size="16" text-anchor="middle">PDF</text>
<text x="582.45" y="242.8" font-size="16" text-anchor="middle">QQ-Plot</text>
<rect x="28.4" y="20.4" width="73.6" height="17.2" rx="2" ry="2" fill="#EAEAF2" fill-opacity="0.8" stroke="#CCCCCC" stroke-opacity="0.8" stroke-width="0.8"/>
<line x1="31.75" y1="28.1" x2="49.3" y2="28.1" stroke="#000" stroke-width="2.9" stroke-dasharray="2.7 4.7"/>
<text x="59.1" y="31.6" font-size="9.8">LGumbel</text>
<rect x="20.3" y="250.1" width="115.2" height="120.3" rx="2" ry="2" fill="#EAEAF2" fill-opacity="0.8" stroke="#CCCCCC" stroke-opacity="0.8" stroke-width="0.8"/>
<line x1="22.5" y1="255.85" x2="39.2" y2="255.85" stroke="#1f77b4" stroke-width="2.1"/>
<text x="44.4" y="258.45" font-size="7.5">Čech / lorenz / 2 / 1</text>
<line x1="22.5" y1="266.62" x2="39.2" y2="266.62" stroke="#ff7f0e" stroke-width="2.1"/>
<text x="44.4" y="269.22" font-size="7.5">Čech / bm / 4 / 1</text>
<line x1="22.5" y1="277.39" x2="39.2" y2="277.39" stroke="#2ca02c" stroke-width="2.1"/>
<text x="44.4" y="279.99" font-size="7.5">Čech / bm / 4 / 2</text>
<line x1="22.5" y1="288.16" x2="39.2" y2="288.16" stroke="#d62728" stroke-width="2.1"/>
<text x="44.4" y="290.76" font-size="7.5">Rips / lorenz / 2 / 1</text>
<line x1="22.5" y1="298.93" x2="39.2" y2="298.93" stroke="#9467bd" stroke-width="2.1"/>
<text x="44.4" y="301.53" font-size="7.5">Rips / voice / 4 / 1</text>
<line x1="22.5" y1="309.70" x2="39.2" y2="309.70" stroke="#8c564b" stroke-width="2.1"/>
<text x="44.4" y="312.30" font-size="7.5">Rips / voice / 5 / 1</text>
<line x1="22.5" y1="320.47" x2="39.2" y2="320.47" stroke="#e377c2" stroke-width="2.1"/>
<text x="44.4" y="323.07" font-size="7.5">Rips / patches / 5 / 1</text>
<line x1="22.5" y1="331.24" x2="39.2" y2="331.24" stroke="#7f7f7f" stroke-width="2.1"/>
<text x="44.4" y="333.84" font-size="7.5">Rips / patches / 8 / 1</text>
<line x1="22.5" y1="342.01" x2="39.2" y2="342.01" stroke="#bcbd22" stroke-width="2.1"/>
<text x="44.4" y="344.61" font-size="7.5">Rips / book-bible / 384 / 1</text>
<line x1="22.5" y1="352.78" x2="39.2" y2="352.78" stroke="#17becf" stroke-width="2.1"/>
<text x="44.4" y="355.38" font-size="7.5">Rips / book-moby / 384 / 1</text>
<line x1="23.3" y1="363.55" x2="39.2" y2="363.55" stroke="#000" stroke-width="2.6" stroke-dasharray="2.6 4.5"/>
<text x="44.4" y="366.15" font-size="7.5">LGumbel</text>
</svg>
</body></html>
